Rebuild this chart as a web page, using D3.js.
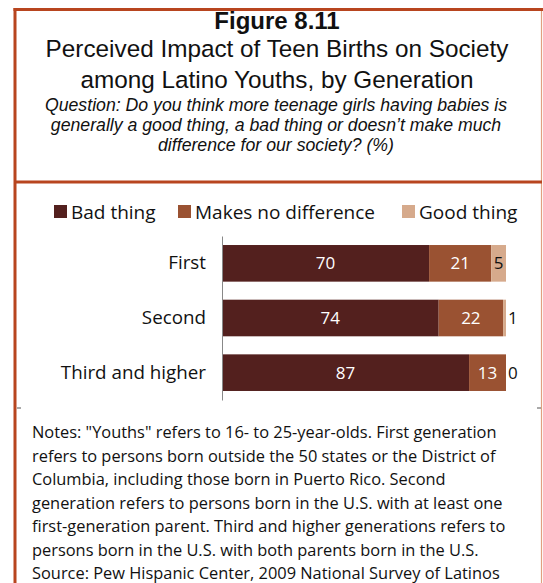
<!DOCTYPE html>
<html><head><meta charset="utf-8">
<script src="https://cdn.jsdelivr.net/npm/d3@7"></script>
<style>body{margin:0;background:#fff}svg{display:block}text{font-family:"Open Sans",sans-serif}text.hd{font-family:"Liberation Sans",Arial,sans-serif}</style>
</head><body>
<script>
const categories = ["First", "Second", "Third and higher"];
const seriesNames = ["Bad thing", "Makes no difference", "Good thing"];
const badThing = [70, 74, 87];
const noDifference = [21, 22, 13];
const goodThing = [5, 1, 0];
const titleLines = ["Perceived Impact of Teen Births on Society", "among Latino Youths, by Generation"];
const questionLines = ["Question: Do you think more teenage girls having babies is",
  "generally a good thing, a bad thing or doesn\u2019t make much",
  "difference for our society? (%)"];
const noteLines = ["Notes: \"Youths\" refers to 16- to 25-year-olds. First generation",
  "refers to persons born outside the 50 states or the District of",
  "Columbia, including those born in Puerto Rico. Second",
  "generation refers to persons born in the U.S. with at least one",
  "first-generation parent. Third and higher generations refers to",
  "persons born in the U.S. with both parents born in the U.S.",
  "Source: Pew Hispanic Center, 2009 National Survey of Latinos"];

const colors = ["#53201e", "#9a5232", "#d6aa8c"];
const W = 543, H = 583;
const svg = d3.select("body").append("svg").attr("width", W).attr("height", H);

// frame
const frame = "#b8451f";
svg.append("line").attr("x1", 541.5).attr("x2", 541.5).attr("y1", 9).attr("y2", H).attr("stroke", "#e0a080").attr("stroke-width", 1.2);
svg.append("line").attr("x1", 13.5).attr("x2", W).attr("y1", 9.5).attr("y2", 9.5).attr("stroke", frame).attr("stroke-width", 3);
svg.append("line").attr("x1", 15).attr("x2", 15).attr("y1", 8).attr("y2", H).attr("stroke", frame).attr("stroke-width", 3);
svg.append("line").attr("x1", 15).attr("x2", 542).attr("y1", 182).attr("y2", 182).attr("stroke", frame).attr("stroke-width", 3);
svg.append("line").attr("x1", 17).attr("x2", 21).attr("y1", 408).attr("y2", 408).attr("stroke", "#555");
svg.append("line").attr("x1", 537).attr("x2", 541).attr("y1", 408).attr("y2", 408).attr("stroke", "#555");

// titles
svg.append("text").attr("class", "hd").attr("x", 277).attr("y", 29).attr("text-anchor", "middle")
  .attr("font-size", 24).attr("font-weight", "bold").attr("fill", "#111").text("Figure 8.11");
svg.selectAll(".tl").data(titleLines).join("text").attr("class", "tl hd")
  .attr("x", 277).attr("y", (d, i) => 57 + i * 31).attr("text-anchor", "middle")
  .attr("font-size", 24.3).attr("fill", "#111").text(d => d);
svg.selectAll(".ql").data(questionLines).join("text").attr("class", "ql hd")
  .attr("x", 276).attr("y", (d, i) => 111 + i * 20).attr("text-anchor", "middle")
  .attr("font-size", 17.7).attr("font-style", "italic").attr("fill", "#111").text(d => d);

// data
const table = categories.map((c, i) => ({cat: c, "Bad thing": badThing[i], "Makes no difference": noDifference[i], "Good thing": goodThing[i]}));
const stack = d3.stack().keys(seriesNames).offset(d3.stackOffsetExpand)(table);

const x = d3.scaleLinear().domain([0, 1]).range([222, 506]);
const y = d3.scaleBand().domain(categories).range([236, 400]).paddingInner(0.33).paddingOuter(0.165);

const g = svg.append("g");
g.selectAll("g.s").data(stack).join("g").attr("class", "s").attr("fill", (d, i) => colors[i])
  .selectAll("rect").data(d => d.map(v => ({v, cat: v.data.cat}))).join("rect")
  .attr("x", d => x(d.v[0])).attr("width", d => x(d.v[1]) - x(d.v[0]))
  .attr("y", d => y(d.cat)).attr("height", y.bandwidth());

// axis
const ax = svg.append("g").attr("transform", "translate(222,0)")
  .call(d3.axisLeft(y).tickSize(0).tickSizeOuter(0).tickPadding(16));
ax.select(".domain").attr("stroke", "#888");
ax.selectAll(".tick text").attr("font-size", 18.8).attr("fill", "#111").attr("font-family", "Open Sans");

// value labels
stack.forEach((s, si) => {
  s.forEach((v, i) => {
    const val = table[i][seriesNames[si]];
    const x0 = x(v[0]), x1 = x(v[1]), w = x1 - x0;
    const t = svg.append("text").attr("y", y(categories[i]) + y.bandwidth() / 2).attr("dy", "0.36em")
      .attr("font-size", 17).text(val);
    if (si < 2) {
      t.attr("x", (x0 + x1) / 2).attr("text-anchor", "middle").attr("fill", "#fff");
    } else if (w > 10) {
      t.attr("x", (x0 + x1) / 2).attr("text-anchor", "middle").attr("fill", "#111");
    } else {
      t.attr("x", x1 + 2).attr("text-anchor", "start").attr("fill", "#111");
    }
  });
});

// legend
const legX = [54, 178, 402];
const leg = svg.selectAll(".leg").data(seriesNames).join("g").attr("class", "leg")
  .attr("transform", (d, i) => `translate(${legX[i]},205)`);
leg.append("rect").attr("width", 13).attr("height", 13).attr("fill", (d, i) => colors[i]);
leg.append("text").attr("x", 17).attr("y", 7).attr("dy", "0.36em").attr("font-size", 19).attr("fill", "#111").text(d => d);

// notes
svg.selectAll(".nl").data(noteLines).join("text").attr("class", "nl")
  .attr("x", 32).attr("y", (d, i) => 438 + i * 23.5).attr("font-size", 16.4).attr("fill", "#111").text(d => d);
</script>
</body></html>
